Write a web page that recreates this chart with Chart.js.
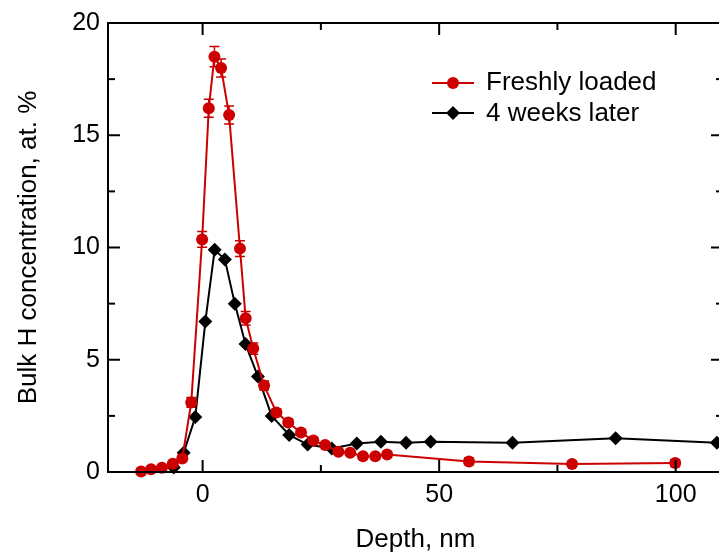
<!DOCTYPE html>
<html><head><meta charset="utf-8">
<script src="https://cdn.jsdelivr.net/npm/chart.js@4/dist/chart.umd.min.js"></script>
<style>html,body{margin:0;padding:0;overflow:hidden;background:#fff;width:719px;height:555px}
#wrap{width:730px;height:555px}</style></head>
<body><div id="wrap"><canvas id="c" width="730" height="555"></canvas></div>
<script>
const seriesLabels = ['Freshly loaded', '4 weeks later'];
const xTitle = 'Depth, nm';
const yTitle = 'Bulk H concentration, at. %';

const freshDepth = [-13.0, -10.9, -8.6, -6.3, -4.3, -2.4, -0.1, 1.3, 2.5, 3.9, 5.6, 7.9, 9.1, 10.7, 13.0, 15.6, 18.1, 20.8, 23.4, 25.9, 28.7, 31.2, 33.9, 36.5, 39.0, 56.3, 78.1, 99.9];
const freshConc  = [0.02, 0.12, 0.19, 0.37, 0.6, 3.1, 10.36, 16.2, 18.5, 18.0, 15.9, 9.95, 6.85, 5.5, 3.85, 2.65, 2.2, 1.76, 1.4, 1.2, 0.9, 0.86, 0.7, 0.7, 0.78, 0.47, 0.36, 0.4];
const freshErr   = [0.05, 0.05, 0.05, 0.08, 0.1, 0.22, 0.35, 0.4, 0.45, 0.4, 0.4, 0.35, 0.3, 0.25, 0.2, 0.15, 0.15, 0.12, 0.12, 0.1, 0.1, 0.1, 0.08, 0.08, 0.08, 0.15, 0.1, 0.15];

const laterDepth = [-6.1, -4.0, -1.55, 0.57, 2.55, 4.7, 6.8, 9.06, 11.7, 14.6, 18.3, 22.2, 27.3, 32.6, 37.7, 43.0, 48.2, 65.5, 87.3, 108.7];
const laterConc  = [0.2, 0.86, 2.45, 6.7, 9.9, 9.47, 7.5, 5.7, 4.25, 2.5, 1.65, 1.22, 1.05, 1.27, 1.35, 1.3, 1.35, 1.3, 1.5, 1.3];

const xMajorTicks = [0, 50, 100];
const xMinorTicks = [25, 75];
const yMajorTicks = [0, 5, 10, 15, 20];
const yMinorTicks = [2.5, 7.5, 12.5, 17.5];

const RED = '#cc0000';
const FONT = "'Liberation Sans', Arial, Helvetica, sans-serif";
Chart.defaults.font.family = FONT;
Chart.defaults.color = '#000';

const framePlugin = {
  id: 'frame',
  beforeDatasetsDraw(chart) {
    const {ctx, scales: {x, y}} = chart;
    ctx.save();
    ctx.strokeStyle = RED; ctx.lineWidth = 1.5;
    freshDepth.forEach((d, i) => {
      const px = x.getPixelForValue(d);
      const y1 = y.getPixelForValue(freshConc[i] + freshErr[i]);
      const y2 = y.getPixelForValue(freshConc[i] - freshErr[i]);
      ctx.beginPath();
      ctx.moveTo(px, y1); ctx.lineTo(px, y2);
      ctx.moveTo(px - 5, y1); ctx.lineTo(px + 5, y1);
      ctx.moveTo(px - 5, y2); ctx.lineTo(px + 5, y2);
      ctx.stroke();
    });
    ctx.restore();
  },
  afterDraw(chart) {
    const {ctx, chartArea: a, scales: {x, y}} = chart;
    ctx.save();
    ctx.strokeStyle = '#000'; ctx.lineWidth = 2;
    ctx.strokeRect(a.left, a.top, a.right - a.left, a.bottom - a.top);
    const seg = (x1, y1, x2, y2) => { ctx.beginPath(); ctx.moveTo(x1, y1); ctx.lineTo(x2, y2); ctx.stroke(); };
    const xt = (vals, len) => vals.forEach(v => { const p = x.getPixelForValue(v); seg(p, a.bottom, p, a.bottom - len); seg(p, a.top, p, a.top + len); });
    const yt = (vals, len) => vals.forEach(v => { const p = y.getPixelForValue(v); seg(a.left, p, a.left + len, p); seg(a.right, p, a.right - len, p); });
    xt(xMajorTicks, 12); xt(xMinorTicks, 7);
    yt(yMajorTicks, 12); yt(yMinorTicks, 7);

    // legend
    const lx1 = 432, lx2 = 474, mx = 453;
    ctx.lineWidth = 2;
    ctx.strokeStyle = RED; seg(lx1, 83, lx2, 83);
    ctx.fillStyle = RED; ctx.beginPath(); ctx.arc(mx, 83, 6, 0, Math.PI * 2); ctx.fill();
    ctx.strokeStyle = '#000'; seg(lx1, 113, lx2, 113);
    ctx.fillStyle = '#000'; ctx.beginPath();
    ctx.moveTo(mx, 106); ctx.lineTo(mx + 7, 113); ctx.lineTo(mx, 120); ctx.lineTo(mx - 7, 113); ctx.closePath(); ctx.fill();
    ctx.font = '26px ' + FONT; ctx.fillStyle = '#000'; ctx.textAlign = 'left'; ctx.textBaseline = 'alphabetic';
    ctx.fillText(seriesLabels[0], 486, 90);
    ctx.fillText(seriesLabels[1], 486, 121);
    ctx.restore();
  }
};

new Chart(document.getElementById('c'), {
  type: 'line',
  data: {
    datasets: [
      {
        label: seriesLabels[0],
        data: freshDepth.map((d, i) => ({x: d, y: freshConc[i]})),
        borderColor: RED, backgroundColor: RED, borderWidth: 2,
        pointStyle: 'circle', pointRadius: 6, pointBorderWidth: 0,
        pointBackgroundColor: RED, tension: 0, clip: false
      },
      {
        label: seriesLabels[1],
        data: laterDepth.map((d, i) => ({x: d, y: laterConc[i]})),
        borderColor: '#000', backgroundColor: '#000', borderWidth: 2,
        pointStyle: 'rectRot', pointRadius: 7, pointBorderWidth: 0,
        pointBackgroundColor: '#000', tension: 0, clip: false
      }
    ]
  },
  options: {
    responsive: false, animation: false, devicePixelRatio: 1,
    layout: {padding: {left: 0, top: 23, right: 3, bottom: 0}},
    plugins: {legend: {display: false}, tooltip: {enabled: false}},
    scales: {
      x: {
        type: 'linear', position: 'bottom', min: -20, max: 110,
        afterBuildTicks: s => { s.ticks = xMajorTicks.map(v => ({value: v})); },
        afterFit: s => { s.height = 83; },
        grid: {display: false, drawTicks: false},
        border: {display: false},
        ticks: {font: {size: 25}, color: '#000', padding: 8, maxRotation: 0},
        title: {display: true, text: xTitle, font: {size: 26}, color: '#000', padding: {top: 0, bottom: 0}}
      },
      y: {
        type: 'linear', position: 'left', min: 0, max: 20,
        afterBuildTicks: s => { s.ticks = yMajorTicks.map(v => ({value: v})); },
        afterFit: s => { s.width = 108; },
        grid: {display: false, drawTicks: false},
        border: {display: false},
        ticks: {font: {size: 25}, color: '#000', padding: 8},
        title: {display: true, text: yTitle, font: {size: 26}, color: '#000', padding: {top: 13, bottom: 0}}
      }
    }
  },
  plugins: [framePlugin]
});
</script>
</body></html>
